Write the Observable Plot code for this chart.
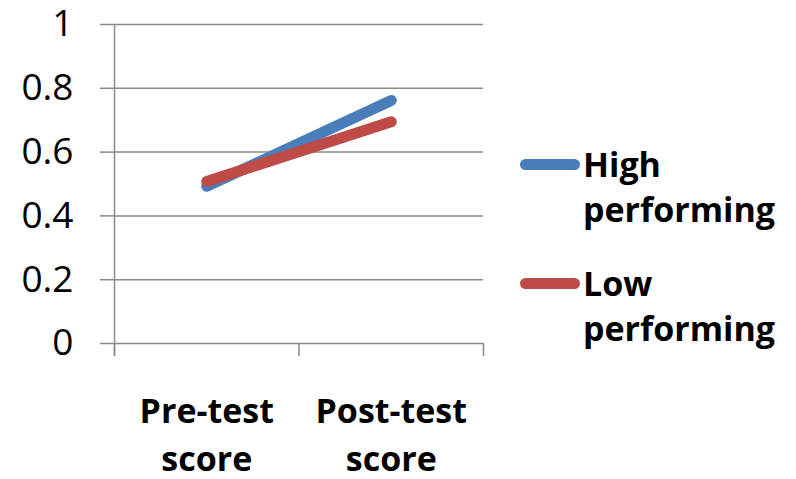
<!DOCTYPE html>
<html>
<head>
<meta charset="utf-8">
<script src="https://cdn.jsdelivr.net/npm/d3@7"></script>
<script src="https://cdn.jsdelivr.net/npm/@observablehq/plot@0.6"></script>
<style>
  body { margin: 0; background: #fff; }
  #chart { position: relative; width: 796px; height: 479px; font-family: "Open Sans", sans-serif; color: #000; }
  #chart svg { position: absolute; left: 0; top: 0; overflow: visible; }
  .legend { position: absolute; left: 520px; top: 142px; display: flex; flex-direction: column; gap: 29px; }
  .legend .entry { display: flex; align-items: flex-start; }
  .legend .swatch { width: 60px; height: 11px; border-radius: 5.5px; margin-top: 16.5px; margin-right: 3px; flex: none; }
  .legend .label { font-size: 34px; font-weight: bold; line-height: 45px; }
</style>
</head>
<body>
<div id="chart"></div>
<script>
// Test scores by group
const categories = ["Pre-test score", "Post-test score"];
const series = ["High performing", "Low performing"];
const highPerforming = [0.493, 0.762];
const lowPerforming = [0.508, 0.695];
const yTicks = [0, 0.2, 0.4, 0.6, 0.8, 1];
const colors = ["#4A7EBB", "#BE4B48"];

const rows = [highPerforming, lowPerforming].flatMap((values, s) =>
  values.map((value, i) => ({series: series[s], i, value}))
);

const gridColor = "#8a8a8a";

const plot = Plot.plot({
  width: 796,
  height: 479,
  marginLeft: 114,
  marginRight: 313,
  marginTop: 24,
  marginBottom: 136,
  style: {fontFamily: "'Open Sans', sans-serif", color: "#000", background: "transparent"},
  x: {type: "linear", domain: [0, categories.length], axis: null},
  y: {domain: [0, 1], axis: null},
  color: {domain: series, range: colors},
  marks: [
    // horizontal gridlines, extending left of the value axis as tick marks
    Plot.gridY(yTicks, {stroke: gridColor, strokeOpacity: 1, strokeWidth: 1.5}),
    Plot.axisY({ticks: yTicks, label: null, tickSize: 14, tickPadding: 27, stroke: gridColor, strokeWidth: 1.5,
      fontSize: 37, tickFormat: d => `${d}`}),
    // value axis line
    Plot.ruleX([0], {stroke: gridColor, strokeWidth: 1.5, insetBottom: -13}),
    // category boundary ticks
    Plot.axisX({ticks: d3.range(categories.length + 1), label: null, tickSize: 13, tickFormat: () => "",
      stroke: gridColor, strokeWidth: 1.5}),
    // category labels, one word group per line
    Plot.text(categories, {
      x: (d, i) => i + 0.5,
      text: d => d.replace(" ", "\n"),
      frameAnchor: "bottom",
      lineAnchor: "top",
      dy: 45,
      fontSize: 34,
      fontWeight: "bold",
      lineHeight: 1.42,
      fill: "#000"
    }),
    Plot.line(rows, {
      x: d => d.i + 0.5,
      y: "value",
      z: "series",
      stroke: "series",
      strokeWidth: 11,
      strokeLinecap: "round",
      strokeLinejoin: "round"
    })
  ]
});

const chart = document.getElementById("chart");
chart.appendChild(plot);

// legend to the right of the plot
const legend = document.createElement("div");
legend.className = "legend";
series.forEach((name, s) => {
  const entry = document.createElement("div");
  entry.className = "entry";
  const swatch = document.createElement("div");
  swatch.className = "swatch";
  swatch.style.background = colors[s];
  const label = document.createElement("div");
  label.className = "label";
  name.split(" ").forEach((word, k) => {
    if (k) label.appendChild(document.createElement("br"));
    label.appendChild(document.createTextNode(word));
  });
  entry.append(swatch, label);
  legend.appendChild(entry);
});
chart.appendChild(legend);
</script>
</body>
</html>
